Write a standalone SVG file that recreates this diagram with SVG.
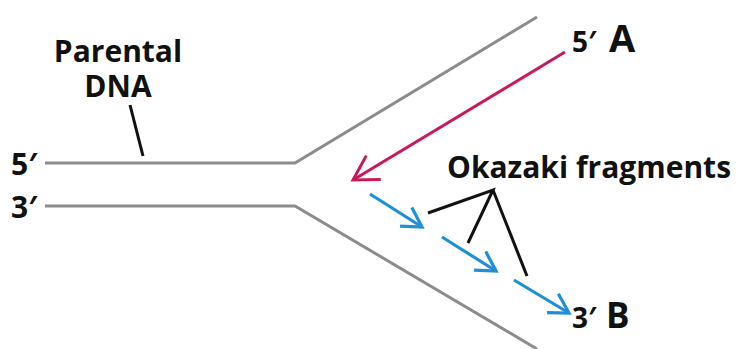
<svg xmlns="http://www.w3.org/2000/svg" width="739" height="349" viewBox="0 0 739 349">
<style>
.t{font-family:"Open Sans","DejaVu Sans",sans-serif;font-weight:bold;fill:#111}
.strand{fill:none;stroke:#8c8c8c;stroke-width:3;stroke-linejoin:miter}
.lead{fill:none;stroke:#c8185e;stroke-width:3}
.frag{fill:none;stroke:#1f8fd8;stroke-width:3.2}
.ptr{fill:none;stroke:#111;stroke-width:3}
</style>
<defs>
<marker id="mA" viewBox="-30 -16 32 32" refX="0" refY="0" markerWidth="32" markerHeight="32" markerUnits="userSpaceOnUse" orient="auto" overflow="visible">
<path d="M-24,-14 L0,0 L-24,14" fill="none" stroke="#c8185e" stroke-width="3"/>
</marker>
<marker id="mB" viewBox="-30 -16 32 32" refX="0" refY="0" markerWidth="32" markerHeight="32" markerUnits="userSpaceOnUse" orient="auto" overflow="visible">
<path d="M-19,-11 L0,0 L-19,11" fill="none" stroke="#1f8fd8" stroke-width="3.2"/>
</marker>
</defs>
<rect width="739" height="349" fill="#fff"/>
<g id="parental-dna">
<polyline class="strand" points="45,163 295,163 537,17"/>
<polyline class="strand" points="45,206 295,206 537,349"/>
</g>
<g id="connectors">
<line class="lead" x1="565" y1="52" x2="353" y2="180" marker-end="url(#mA)"/>
<line class="frag" x1="370" y1="194" x2="422" y2="227" marker-end="url(#mB)"/>
<line class="frag" x1="442" y1="237" x2="496" y2="271" marker-end="url(#mB)"/>
<line class="frag" x1="514" y1="280" x2="569" y2="313" marker-end="url(#mB)"/>
<line class="ptr" x1="130" y1="105" x2="143" y2="156"/>
<polyline class="ptr" points="428,213 493,190 468,243"/>
<line class="ptr" x1="493" y1="190" x2="527" y2="276"/>
</g>
<g id="label-parental">
<text class="t" x="118" y="62" font-size="30" text-anchor="middle">Parental</text>
<text class="t" x="118" y="97" font-size="30" text-anchor="middle">DNA</text>
</g>
<g id="label-left-ends">
<text class="t" x="11" y="175" font-size="30">5′</text>
<text class="t" x="11" y="218" font-size="30">3′</text>
</g>
<g id="label-okazaki">
<text class="t" x="447" y="178" font-size="30">Okazaki fragments</text>
</g>
<g id="label-A">
<text class="t" x="572" y="52" font-size="28">5′</text>
<text class="t" x="609" y="52" font-size="38">A</text>
</g>
<g id="label-B">
<text class="t" x="572" y="328" font-size="28">3′</text>
<text class="t" x="606" y="328" font-size="35">B</text>
</g>
</svg>
